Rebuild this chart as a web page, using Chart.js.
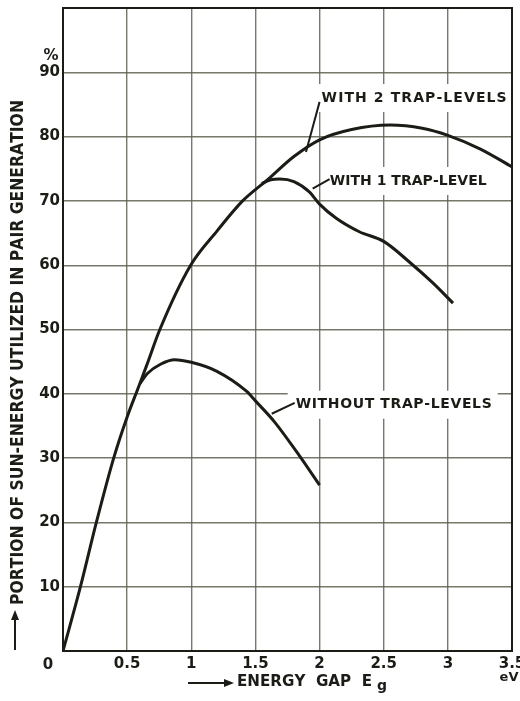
<!DOCTYPE html>
<html>
<head>
<meta charset="utf-8">
<script src="https://cdn.jsdelivr.net/npm/chart.js@4"></script>
<style>
html,body{margin:0;padding:0;background:#fff;}
#wrap{width:520px;height:701px;}
</style>
</head>
<body>
<div id="wrap"><canvas id="c" width="520" height="701"></canvas></div>
<script>
// ---- data ----
const energyGap2 = [0, 0.136, 0.26, 0.395, 0.5, 0.58, 0.65, 0.755, 0.995, 1.2, 1.40, 1.6, 1.8, 2.0, 2.25, 2.55, 2.8, 3.0, 3.25, 3.5];
const portion2   = [0, 10, 20, 30, 36.4, 40.6, 44.3, 50, 60, 65.3, 70, 73.4, 76.9, 79.5, 81.1, 81.8, 81.3, 80.2, 78.1, 75.3];

const energyGap1 = [1.55, 1.62, 1.69, 1.8, 1.92, 2.0, 2.13, 2.31, 2.5, 2.7, 2.885, 3.04];
const portion1   = [72.7, 73.3, 73.4, 73.0, 71.4, 69.5, 67.3, 65.2, 63.7, 60.5, 57.2, 54.1];

const energyGap0 = [0.6, 0.66, 0.76, 0.87, 1.0, 1.2, 1.43, 1.5, 1.65, 1.845, 2.0];
const portion0   = [41.6, 43.2, 44.6, 45.3, 44.9, 43.5, 40.4, 38.9, 35.6, 30.3, 25.8];

const xTicks = [0, 0.5, 1, 1.5, 2, 2.5, 3, 3.5];
const yTicks = [10, 20, 30, 40, 50, 60, 70, 80, 90];

const curveLabels = [
  {text: 'WITH 2 TRAP-LEVELS',  x: 2.016, y: 86.0, w: 185, lead: [[2.0, 85.4], [1.894, 77.6]]},
  {text: 'WITH 1 TRAP-LEVEL',   x: 2.079, y: 73.1, w: 157, lead: [[2.078, 73.4], [1.946, 71.9]]},
  {text: 'WITHOUT TRAP-LEVELS', x: 1.814, y: 38.3, w: 196, lead: [[1.806, 38.6], [1.627, 36.9]]}
];
const yTitle = 'PORTION OF SUN-ENERGY UTILIZED IN PAIR GENERATION';
const xTitle = 'ENERGY  GAP  E';
const xTitleSub = 'g';

const INK = '#1c1c17';
const pts = (xs, ys) => xs.map((x, i) => ({x: x, y: ys[i]}));

function spaced(ctx, text, x, y, width) {
  const chars = [...text];
  const ws = chars.map(c => ctx.measureText(c).width);
  const sum = ws.reduce((a, b) => a + b, 0);
  let ls = (width - sum) / Math.max(1, chars.length - 1);
  let sx = 1;
  if (ls < 0) { sx = width / sum; ls = 0; }
  ctx.save();
  ctx.translate(x, y);
  ctx.scale(sx, 1);
  let cx = 0;
  chars.forEach((c, i) => { ctx.fillText(c, cx, 0); cx += ws[i] + ls; });
  ctx.restore();
}

const decor = {
  id: 'decor',
  beforeDatasetsDraw(chart) {
    const ctx = chart.ctx, xs = chart.scales.x, ys = chart.scales.y;
    ctx.save();
    ctx.font = 'bold 14px "DejaVu Sans"';
    ctx.textBaseline = 'middle';
    ctx.textAlign = 'left';
    curveLabels.forEach(l => {
      const px = xs.getPixelForValue(l.x), py = ys.getPixelForValue(l.y);
      ctx.fillStyle = '#ffffff';
      ctx.fillRect(px - 8, py - 14, l.w + 14, 28);
      ctx.fillStyle = INK;
      spaced(ctx, l.text, px, py, l.w);
      ctx.strokeStyle = INK;
      ctx.lineWidth = 2;
      ctx.beginPath();
      ctx.moveTo(xs.getPixelForValue(l.lead[0][0]), ys.getPixelForValue(l.lead[0][1]));
      ctx.lineTo(xs.getPixelForValue(l.lead[1][0]), ys.getPixelForValue(l.lead[1][1]));
      ctx.stroke();
    });
    ctx.restore();
  },
  afterDraw(chart) {
    const ctx = chart.ctx, a = chart.chartArea;
    ctx.save();
    // plot frame
    ctx.strokeStyle = INK;
    ctx.lineWidth = 2;
    ctx.strokeRect(a.left, a.top, a.right - a.left, a.bottom - a.top);
    ctx.fillStyle = INK;
    ctx.textBaseline = 'middle';
    // origin label
    ctx.font = 'bold 15px "DejaVu Sans"';
    ctx.textAlign = 'center';
    ctx.fillText('0', a.left - 15, a.bottom + 14);
    // % unit
    ctx.fillText('%', a.left - 12, chart.scales.y.getPixelForValue(90) - 16);
    // eV unit
    ctx.font = 'bold 13px "DejaVu Sans"';
    ctx.fillText('eV', a.right - 3, a.bottom + 27);
    // y title
    ctx.font = 'bold 17px "DejaVu Sans"';
    ctx.textAlign = 'left';
    ctx.save();
    ctx.translate(19, 605);
    ctx.rotate(-Math.PI / 2);
    spaced(ctx, yTitle, 0, 0, 505);
    ctx.restore();
    // y arrow
    ctx.strokeStyle = INK; ctx.lineWidth = 2;
    ctx.beginPath(); ctx.moveTo(15, 650); ctx.lineTo(15, 618); ctx.stroke();
    ctx.beginPath(); ctx.moveTo(15, 610); ctx.lineTo(11, 620); ctx.lineTo(19, 620); ctx.closePath(); ctx.fill();
    // x arrow
    ctx.beginPath(); ctx.moveTo(188, 683); ctx.lineTo(226, 683); ctx.stroke();
    ctx.beginPath(); ctx.moveTo(234, 683); ctx.lineTo(224, 679); ctx.lineTo(224, 687); ctx.closePath(); ctx.fill();
    // x title
    ctx.font = 'bold 16px "DejaVu Sans"';
    spaced(ctx, xTitle, 237, 682, 135);
    ctx.font = 'bold 14px "DejaVu Sans"';
    ctx.fillText(xTitleSub, 377, 686);
    ctx.restore();
  }
};

const lineStyle = {borderColor: INK, borderWidth: 3, pointRadius: 0, fill: false, cubicInterpolationMode: 'monotone'};

new Chart(document.getElementById('c'), {
  type: 'line',
  data: {
    datasets: [
      Object.assign({label: 'With 2 trap-levels', data: pts(energyGap2, portion2)}, lineStyle),
      Object.assign({label: 'With 1 trap-level', data: pts(energyGap1, portion1)}, lineStyle),
      Object.assign({label: 'Without trap-levels', data: pts(energyGap0, portion0)}, lineStyle)
    ]
  },
  options: {
    responsive: false,
    devicePixelRatio: 1,
    animation: false,
    layout: {padding: {top: 8, right: 8, left: 0, bottom: 0}},
    plugins: {legend: {display: false}, tooltip: {enabled: false}},
    scales: {
      x: {
        type: 'linear', min: 0, max: 3.5,
        afterBuildTicks: s => { s.ticks = xTicks.map(v => ({value: v})); },
        afterFit: s => { s.height = 50; s.paddingLeft = 0; s.paddingRight = 0; },
        ticks: {
          color: INK, font: {family: 'DejaVu Sans', weight: 'bold', size: 15}, padding: 4,
          maxRotation: 0, autoSkip: false,
          callback: v => (v === 0 ? '' : String(v))
        },
        grid: {color: 'rgba(95,95,80,0.85)', lineWidth: 1.4, drawTicks: false},
        border: {color: INK, width: 2}
      },
      y: {
        type: 'linear', min: 0, max: 100,
        afterBuildTicks: s => { s.ticks = [0].concat(yTicks, [100]).map(v => ({value: v})); },
        afterFit: s => { s.width = 63; s.paddingTop = 0; s.paddingBottom = 0; },
        ticks: {
          color: INK, font: {family: 'DejaVu Sans', weight: 'bold', size: 15}, padding: 3,
          callback: v => (yTicks.includes(v) ? String(v) : '')
        },
        grid: {color: 'rgba(95,95,80,0.85)', lineWidth: 1.4, drawTicks: false},
        border: {color: INK, width: 2}
      }
    }
  },
  plugins: [decor]
});
</script>
</body>
</html>
